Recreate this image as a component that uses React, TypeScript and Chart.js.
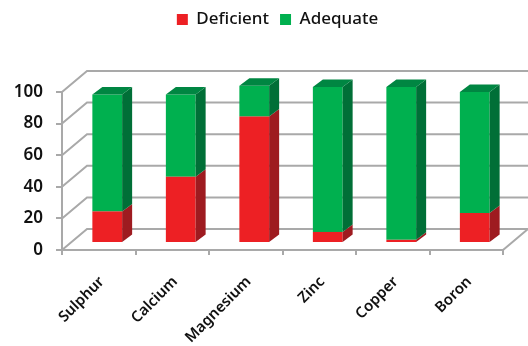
import React, { useEffect, useRef } from "react";
import { Chart, registerables } from "chart.js";

Chart.register(...registerables);

const categories = ["Sulphur", "Calcium", "Magnesium", "Zinc", "Copper", "Boron"];
const deficient = [20, 42, 80, 7, 2, 19];
const adequate = [74, 52, 19.5, 91.7, 96.7, 76.5];

const WALL = { dx: 25, dy: -21 };
const BAR_SHIFT = { dx: 8.5, dy: -7 };
const BAR_DEPTH = { dx: 10, dy: -7.5 };
const GRID_COLOR = "#a9a9a9";
const RED = "#ed2024";
const RED_SIDE = "#9e1b20";
const GREEN = "#00b04f";
const GREEN_SIDE = "#006f37";
const GREEN_TOP = "#008642";
const FONT = "'Noto Sans', sans-serif";
const PLOT_TOP = 92;
const LEGEND_SHIFT = 26;

function polygon(ctx: CanvasRenderingContext2D, pts: number[][], fill: string) {
  ctx.beginPath();
  pts.forEach(([x, y], i) => (i ? ctx.lineTo(x, y) : ctx.moveTo(x, y)));
  ctx.closePath();
  ctx.fillStyle = fill;
  ctx.fill();
}

// Back wall grid, left wall diagonals and the floor edge of the 3D frame.
const framePlugin = {
  id: "frame3d",
  beforeLayout(chart: any) {
    // Reserve the space the raised back wall needs under the legend.
    const legend = chart.legend;
    if (legend && !legend.__tall) {
      const fit = legend.fit;
      legend.fit = function () {
        fit.call(this);
        this.height = PLOT_TOP;
      };
      legend.__tall = true;
    }
  },
  afterLayout(chart: any) {
    // Centre the legend over the wall rather than over the front plane.
    const legend = chart.legend;
    if (legend) {
      legend.left += LEGEND_SHIFT;
      legend.right += LEGEND_SHIFT;
    }
  },
  beforeDatasetsDraw(chart: any) {
    const { ctx, chartArea: area, scales } = chart;
    const y = scales.y;
    ctx.save();
    ctx.strokeStyle = GRID_COLOR;
    ctx.lineWidth = 2;
    y.ticks.forEach((t: any) => {
      const py = y.getPixelForValue(t.value);
      ctx.beginPath();
      ctx.moveTo(area.left, py);
      ctx.lineTo(area.left + WALL.dx, py + WALL.dy);
      ctx.lineTo(area.right + WALL.dx, py + WALL.dy);
      ctx.stroke();
    });
    const bottom = y.getPixelForValue(0);
    ctx.beginPath();
    ctx.moveTo(area.right, bottom);
    ctx.lineTo(area.right + WALL.dx, bottom + WALL.dy);
    ctx.stroke();
    ctx.restore();

    ctx.save();
    ctx.translate(BAR_SHIFT.dx, BAR_SHIFT.dy);
  },
  afterDatasetsDraw(chart: any) {
    const { ctx } = chart;
    const lastIndex = chart.data.datasets.length - 1;
    chart.data.datasets.forEach((_: any, di: number) => {
      chart.getDatasetMeta(di).data.forEach((bar: any) => {
        const { x, y, base, width } = bar.getProps(["x", "y", "base", "width"], true);
        const right = x + width / 2;
        const left = x - width / 2;
        const { dx, dy } = BAR_DEPTH;
        polygon(
          ctx,
          [
            [right, y],
            [right + dx, y + dy],
            [right + dx, base + dy],
            [right, base],
          ],
          di === 0 ? RED_SIDE : GREEN_SIDE,
        );
        if (di === lastIndex) {
          polygon(
            ctx,
            [
              [left, y],
              [left + dx, y + dy],
              [right + dx, y + dy],
              [right, y],
            ],
            GREEN_TOP,
          );
        }
      });
    });
    ctx.restore();
  },
};

export default function App() {
  const ref = useRef<HTMLCanvasElement>(null);

  useEffect(() => {
    const chart = new Chart(ref.current!, {
      type: "bar",
      plugins: [framePlugin],
      data: {
        labels: categories,
        datasets: [
          { label: "Deficient", data: deficient, backgroundColor: RED, clip: false } as any,
          { label: "Adequate", data: adequate, backgroundColor: GREEN, clip: false } as any,
        ],
      },
      options: {
        responsive: false,
        animation: false,
        layout: { padding: { top: 0, right: 25, bottom: 0, left: 0 } },
        datasets: { bar: { barPercentage: 0.405, categoryPercentage: 1 } },
        plugins: {
          tooltip: { enabled: false },
          legend: {
            position: "top",
            labels: {
              boxWidth: 11,
              boxHeight: 11,
              padding: 11,
              color: "#111",
              font: { family: FONT, size: 17, weight: 500 },
            },
          },
        },
        scales: {
          x: {
            stacked: true,
            afterFit(scale: any) {
              scale.height = 96;
            },
            grid: {
              drawOnChartArea: false,
              color: GRID_COLOR,
              lineWidth: 2,
              tickLength: 5,
              offset: true,
            },
            border: { color: GRID_COLOR, width: 2 },
            ticks: {
              autoSkip: false,
              minRotation: 45,
              maxRotation: 45,
              padding: 18,
              labelOffset: 3,
              color: "#111",
              font: { family: FONT, size: 15, weight: 600 },
            },
          },
          y: {
            stacked: true,
            min: 0,
            max: 100,
            afterFit(scale: any) {
              scale.width = 62;
            },
            grid: {
              drawOnChartArea: false,
              color: GRID_COLOR,
              lineWidth: 2,
              tickLength: 6,
            },
            border: { color: GRID_COLOR, width: 2 },
            ticks: {
              stepSize: 20,
              padding: 13,
              color: "#111",
              font: { family: FONT, size: 17, weight: 600 },
            },
          },
        },
      },
    });
    return () => chart.destroy();
  }, []);

  return (
    <div style={{ position: "fixed", left: 0, top: 0 }}>
      <canvas ref={ref} width={528} height={346} style={{ display: "block" }} />
    </div>
  );
}
